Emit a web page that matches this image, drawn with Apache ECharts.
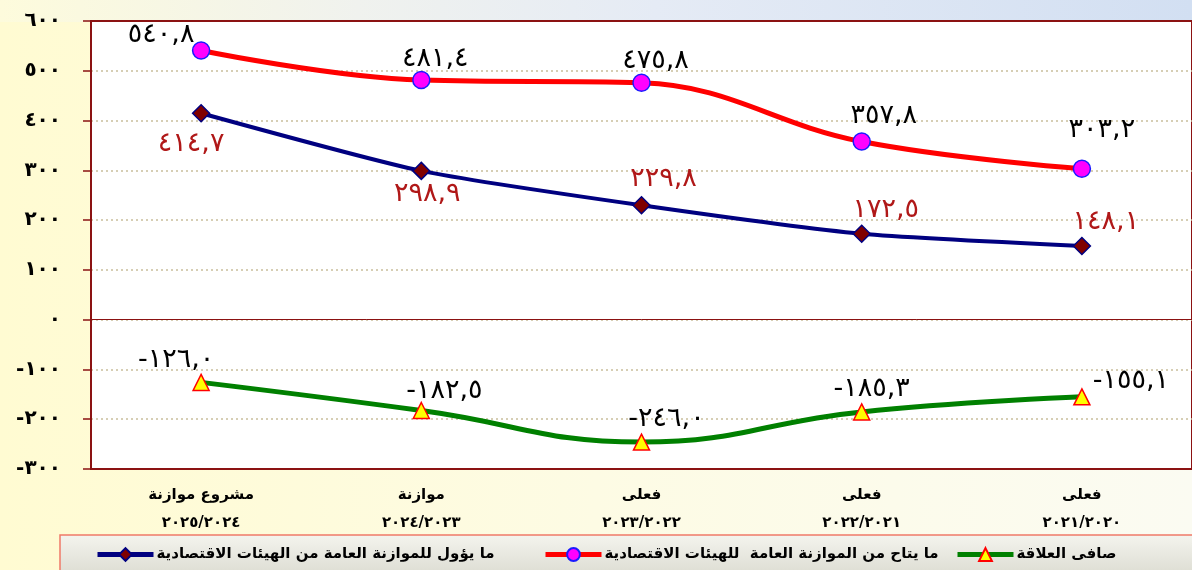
<!DOCTYPE html>
<html>
<head>
<meta charset="utf-8">
<title>الهيئات الاقتصادية</title>
<script src="https://cdn.jsdelivr.net/npm/echarts@6/dist/echarts.min.js"></script>
<style>
  html, body { margin: 0; padding: 0; }
  #chart { width: 1192px; height: 570px; }
</style>
</head>
<body>
<div id="chart"></div>
<script>
// categories, left to right
const catNames = ['مشروع موازنة', 'موازنة', 'فعلى', 'فعلى', 'فعلى'];
const catYears = ['٢٠٢٥/٢٠٢٤', '٢٠٢٤/٢٠٢٣', '٢٠٢٣/٢٠٢٢', '٢٠٢٢/٢٠٢١', '٢٠٢١/٢٠٢٠'];

// series values
const availableVals = [540.8, 481.4, 475.8, 357.8, 303.2];   // ما يتاح من الموازنة العامة
const returnedVals = [414.7, 298.9, 229.8, 172.5, 148.1];    // ما يؤول للموازنة العامة
const netVals = [-126.0, -182.5, -246.0, -185.3, -155.1];    // صافى العلاقة

const seriesNames = [
  'ما يؤول للموازنة العامة من الهيئات الاقتصادية',
  'ما يتاح من الموازنة العامة  للهيئات الاقتصادية',
  'صافى العلاقة'
];

const yMin = -300, yMax = 600, yStep = 100;

const arDigits = '٠١٢٣٤٥٦٧٨٩';
function toAr(s) {
  return String(s).replace(/\d/g, d => arDigits[d]);
}
function fmtVal(v) {
  return toAr(v.toFixed(1)).replace('.', ',');
}

const arabicFont = '"DejaVu Sans", "Noto Sans", sans-serif';

let myChart = echarts.init(document.getElementById('chart'));

// label placement per point (style only)
const posAvail = ['top', 'top', 'top', 'top', 'top'];
const offAvail = [[-40, 13], [14, 8], [14, 7], [22, 3], [20, -10]];
const posReturned = ['bottom', 'bottom', 'top', 'top', 'top'];
const offReturned = [[-10, 2], [6, -6], [22, 2], [24, 5], [24, 5]];
const posNet = ['top', 'top', 'top', 'top', 'top'];
const offNet = [[-25, 6], [23, 9], [25, 5], [10, 5], [49, 12]];

function withLabels(vals, pos, offs, color) {
  return vals.map((v, i) => ({
    value: v,
    label: {
      show: true,
      position: pos[i],
      offset: offs[i],
      formatter: fmtVal(v),
      color: color,
      fontSize: 27,
      fontFamily: arabicFont,
      distance: 6
    }
  }));
}

// one legend per series so each item sits where the original has it
const legendLeft = [90, 538, 950];
function makeLegend(i) {
  return {
    left: legendLeft[i],
    top: 542,
    itemWidth: 56,
    itemHeight: 16,
    data: [seriesNames[i]],
    lineStyle: { width: 5 },
    textStyle: {
      color: '#000',
      fontSize: 15,
      fontWeight: 'bold',
      fontFamily: arabicFont,
      padding: [0, 0, 0, -2]
    }
  };
}

myChart.setOption({
  backgroundColor: {
    type: 'linear', x: 0, y: 0, x2: 1, y2: 0,
    colorStops: [
      { offset: 0, color: '#fffbd2' },
      { offset: 0.5, color: '#fdfbe4' },
      { offset: 1, color: '#fbfbf2' }
    ]
  },
  animation: false,
  graphic: [
    {
      type: 'rect',
      shape: { x: 0, y: 0, width: 1192, height: 22 },
      style: {
        fill: {
          type: 'linear', x: 0, y: 0, x2: 1, y2: 0,
          colorStops: [
            { offset: 0, color: '#fdfbdc' },
            { offset: 0.3, color: '#f0f2ee' },
            { offset: 0.55, color: '#e5ebf5' },
            { offset: 1, color: '#d2dff2' }
          ]
        }
      },
      z: -2
    },
    {
      type: 'rect',
      shape: { x: 60, y: 535, width: 1140, height: 40 },
      style: {
        fill: {
          type: 'linear', x: 0, y: 0, x2: 0, y2: 1,
          colorStops: [
            { offset: 0, color: '#f4f4ee' },
            { offset: 1, color: '#dcdcd2' }
          ]
        },
        stroke: '#f07a68',
        lineWidth: 1.5
      },
      z: -1
    }
  ],
  grid: {
    left: 91,
    top: 21,
    width: 1105,
    height: 448,
    show: true,
    backgroundColor: '#ffffff',
    borderColor: '#8b1212',
    borderWidth: 2
  },
  legend: [makeLegend(0), makeLegend(1), makeLegend(2)],
  xAxis: {
    type: 'category',
    boundaryGap: true,
    data: catNames.map((n, i) => n + '\n' + catYears[i]),
    axisLine: { onZero: false, lineStyle: { color: '#8b1212', width: 2 } },
    axisTick: { show: false },
    axisLabel: {
      color: '#000',
      fontSize: 15,
      fontWeight: 'bold',
      fontFamily: arabicFont,
      lineHeight: 28,
      margin: 12,
      interval: 0
    },
    splitLine: { show: false }
  },
  yAxis: {
    type: 'value',
    min: yMin,
    max: yMax,
    interval: yStep,
    axisLine: { show: true, lineStyle: { color: '#8b1212', width: 2 } },
    axisTick: { show: true, length: 8, lineStyle: { color: '#8b1212', width: 1.5 } },
    axisLabel: {
      color: '#000',
      fontSize: 20,
      fontWeight: 'bold',
      fontFamily: arabicFont,
      margin: 30,
      formatter: v => (v < 0 ? '-' : '') + toAr(Math.abs(v))
    },
    splitLine: {
      show: true,
      showMinLine: false,
      showMaxLine: false,
      lineStyle: { color: '#c9bf9c', type: [2, 3], width: 1.5 }
    }
  },
  series: [
    {
      name: seriesNames[0],
      type: 'line',
      smooth: 0.2,
      data: withLabels(returnedVals, posReturned, offReturned, '#b01818'),
      symbol: 'diamond',
      symbolSize: 17,
      lineStyle: { color: '#000080', width: 4 },
      itemStyle: { color: '#800000', borderColor: '#000080', borderWidth: 1.5 },
      z: 3
    },
    {
      name: seriesNames[1],
      type: 'line',
      smooth: 0.4,
      data: withLabels(availableVals, posAvail, offAvail, '#000'),
      symbol: 'circle',
      symbolSize: 17,
      lineStyle: { color: '#ff0000', width: 5 },
      itemStyle: { color: '#ff00ff', borderColor: '#1a1aff', borderWidth: 1.5 },
      z: 3
    },
    {
      name: seriesNames[2],
      type: 'line',
      smooth: 0.45,
      data: withLabels(netVals, posNet, offNet, '#000'),
      symbol: 'triangle',
      symbolSize: 16,
      lineStyle: { color: '#008000', width: 5 },
      itemStyle: { color: '#ffff00', borderColor: '#ff0000', borderWidth: 1.5 },
      markLine: {
        silent: true,
        symbol: 'none',
        label: { show: false },
        lineStyle: { color: '#8b1212', type: 'solid', width: 1 },
        data: [{ yAxis: 0 }]
      },
      z: 3
    }
  ]
});
</script>
</body>
</html>
